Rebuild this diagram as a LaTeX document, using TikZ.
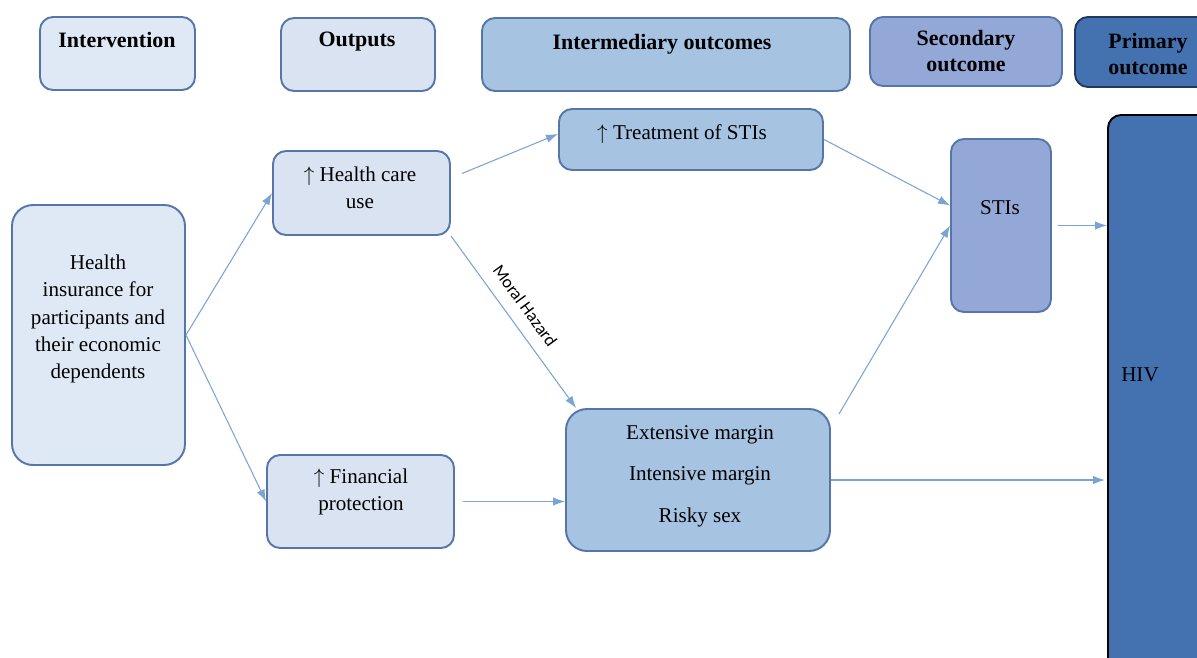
\documentclass[tikz,border=0pt]{standalone}
\usepackage{fontspec}
\setmainfont{Liberation Serif}
\newfontfamily\hazardfont{Carlito}
\usetikzlibrary{arrows.meta}
\usetikzlibrary{positioning}

\definecolor{boxline}{HTML}{5676A8}
\definecolor{lightfill}{HTML}{DFE9F5}
\definecolor{outfill}{HTML}{DAE3F1}
\definecolor{midfill}{HTML}{A7C3E2}
\definecolor{secfill}{HTML}{94A8D8}
\definecolor{primfill}{HTML}{4472B0}
\definecolor{primline}{HTML}{22385E}
\definecolor{arrowblue}{HTML}{7AA3D6}

\newcommand\unitpx{0.02cm}

\tikzset{
  cbox/.style={draw=boxline, line width=1.1pt, rounded corners=0.26cm, inner sep=0pt},
  bigbox/.style={cbox, rounded corners=0.42cm},
  hdrtext/.style={font=\bfseries\fontsize{12.5}{14.5}\selectfont, align=center, inner sep=0pt},
  bodytext/.style={font=\fontsize{12}{15.5}\selectfont, align=center, inner sep=0pt},
  arr/.style={draw=arrowblue, line width=0.6pt, -{Latex[length=2.4mm,width=1.7mm]}},
}

\begin{document}
\begin{tikzpicture}[x=0.02cm, y=-0.02cm]
\useasboundingbox (0,0) rectangle (1197,657);
\begin{scope}
\clip (0,0) rectangle (1197,657);
% column headers
\node[cbox, fill=lightfill, minimum width=155*\unitpx, minimum height=73*\unitpx] (intv) at (117.5,53.5) {};
\node[cbox, fill=outfill, minimum width=154*\unitpx, minimum height=73*\unitpx] (outp) at (358,54.5) {};
\node[cbox, fill=midfill, minimum width=368*\unitpx, minimum height=73*\unitpx] (inter) at (666,54.5) {};
\node[cbox, fill=secfill, minimum width=192*\unitpx, minimum height=69*\unitpx] (sec) at (966,51.5) {};
\node[cbox, draw=primline, fill=primfill, minimum width=147*\unitpx, minimum height=70*\unitpx] (prim) at (1148.5,52) {};
\node[hdrtext] (intvlbl) at (117,40) {Intervention};
\node[hdrtext] (outplbl) at (357,42) {Outputs};
\node[hdrtext] (interlbl) at (662,44) {Intermediary outcomes};
\node[hdrtext] (seclbl) at (966,51) {Secondary\\outcome};
\node[hdrtext] (primlbl) at (1148,54) {Primary\\outcome};

% boxes
\node[bigbox, fill=lightfill, minimum width=173*\unitpx, minimum height=260*\unitpx] (ins) at (98.5,335) {};
\node[cbox, fill=outfill, minimum width=177*\unitpx, minimum height=84*\unitpx] (hcu) at (361.5,193) {};
\node[cbox, fill=outfill, minimum width=187*\unitpx, minimum height=93*\unitpx] (fin) at (360.5,501.5) {};
\node[cbox, fill=midfill, minimum width=264*\unitpx, minimum height=61*\unitpx] (treat) at (691,139.5) {};
\node[bigbox, fill=midfill, minimum width=264*\unitpx, minimum height=142*\unitpx] (ext) at (698,480) {};
\node[cbox, fill=secfill, minimum width=100*\unitpx, minimum height=173*\unitpx] (sti) at (1001,225.5) {};
\node[cbox, draw=black, fill=primfill, minimum width=132*\unitpx, minimum height=565*\unitpx] (hiv) at (1174,397.5) {};

\node[bodytext] (inslbl) at (98,319) {Health\\insurance for\\participants and\\their economic\\dependents};
\node[bodytext] (hculbl) at (360,188) {$\uparrow$ Health care\\use};
\node[bodytext] (finlbl) at (361,492) {$\uparrow$ Financial\\protection};
\node[bodytext] (treatlbl) at (682,134) {$\uparrow$ Treatment of STIs};
\node[bodytext] (extlbl) at (700,476) {Extensive margin\\[8pt]Intensive margin\\[8pt]Risky sex};
\node[bodytext] (stilbl) at (1000,208) {STIs};
\node[bodytext] (hivlbl) at (1140,375) {HIV};

% connectors
\draw[arr] (ins.east) -- (hcu.west);
\draw[arr] (ins.east) -- (fin.west);
\draw[arr, shorten <=12*\unitpx] (hcu.east |- 0,178) -- (treat.west |- 0,134);
\draw[arr] (hcu.south east) -- ([xshift=11*\unitpx]ext.north west)
  node[pos=0.47, sloped, above=6pt, font=\hazardfont\fontsize{10}{12}\selectfont, inner sep=1pt] (hazard) {Moral Hazard};
\draw[arr, shorten <=8*\unitpx] (fin.east) -- (ext.west |- fin.east);
\draw[arr] (treat.east) -- ([yshift=20*\unitpx]sti.west);
\draw[arr] ([shift={(8*\unitpx,-6*\unitpx)}]ext.north east) -- (sti.west);
\draw[arr, shorten <=6*\unitpx] (sti.east) -- (hiv.west |- sti.east);
\draw[arr] (ext.east) -- ([xshift=-2*\unitpx]hiv.west |- ext.east);
\end{scope}
\end{tikzpicture}
\end{document}
